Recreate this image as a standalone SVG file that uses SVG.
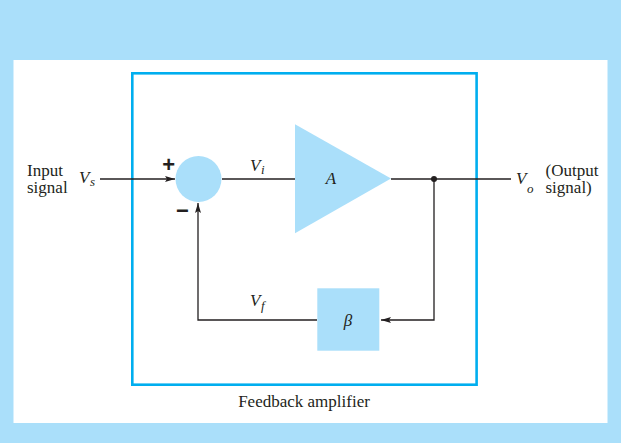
<svg xmlns="http://www.w3.org/2000/svg" width="621" height="443" viewBox="0 0 621 443">
<style>
.t{font-family:"Liberation Serif","Times New Roman",serif;font-size:17px;fill:#231f20}
.i{font-style:italic}
.sub{font-size:13px}
.sg{font-family:"Liberation Sans",Arial,sans-serif;font-weight:bold;font-size:22px;fill:#231f20}
.ln{stroke:#231f20;stroke-width:1.3;fill:none}
.blk{fill:#aadffa}
</style>
<defs>
<marker id="ah" viewBox="0 0 10 6" refX="10" refY="3" markerWidth="10" markerHeight="6" markerUnits="userSpaceOnUse" orient="auto">
<path d="M0,0 L10,3 L0,6 L2,3 Z" fill="#231f20"/>
</marker>
</defs>
<rect x="0" y="0" width="621" height="443" fill="#aadffa"/>
<rect x="13.5" y="60" width="594" height="363" fill="#ffffff"/>
<rect id="frame" x="132.3" y="73.3" width="344.3" height="311.4" fill="none" stroke="#00aeef" stroke-width="2.6"/>
<g id="connectors">
<line class="ln" x1="100" y1="179" x2="175" y2="179" marker-end="url(#ah)"/>
<line class="ln" x1="222" y1="179" x2="295" y2="179"/>
<line class="ln" x1="391" y1="179" x2="511" y2="179"/>
<polyline class="ln" points="434,179 434,320 381,320" marker-end="url(#ah)"/>
<polyline class="ln" points="317,320 198,320 198,203" marker-end="url(#ah)"/>
<circle cx="434" cy="179" r="3" fill="#231f20"/>
</g>
<g id="summer">
<circle class="blk" cx="198.5" cy="179" r="23"/>
<text class="sg" x="168.7" y="171.5" text-anchor="middle">+</text>
<text class="sg" x="182.5" y="217.5" text-anchor="middle">−</text>
</g>
<g id="amplifier">
<polygon class="blk" points="295,124.3 391,178.5 295,233.3"/>
<text class="t i" x="331" y="184" text-anchor="middle">A</text>
</g>
<g id="beta">
<rect class="blk" x="317.3" y="288.3" width="62" height="62.4"/>
<text class="t i" x="348" y="326" text-anchor="middle">β</text>
</g>
<g id="labels">
<text class="t" x="27" y="175.5">Input</text>
<text class="t" x="27" y="193">signal</text>
<text class="t i" x="79" y="183.3">V<tspan class="sub" dx="0.5" dy="3">s</tspan></text>
<text class="t i" x="250" y="170.7">V<tspan class="sub" dx="0.5" dy="3">i</tspan></text>
<text class="t i" x="250" y="305.7">V<tspan class="sub" dx="0.5" dy="4">f</tspan></text>
<text class="t i" x="516" y="184.3">V<tspan class="sub" dx="0.5" dy="9">o</tspan></text>
<text class="t" x="545.5" y="175.7">(Output</text>
<text class="t" x="545.5" y="193">signal)</text>
<text class="t" x="304" y="406.7" text-anchor="middle">Feedback amplifier</text>
</g>
</svg>
